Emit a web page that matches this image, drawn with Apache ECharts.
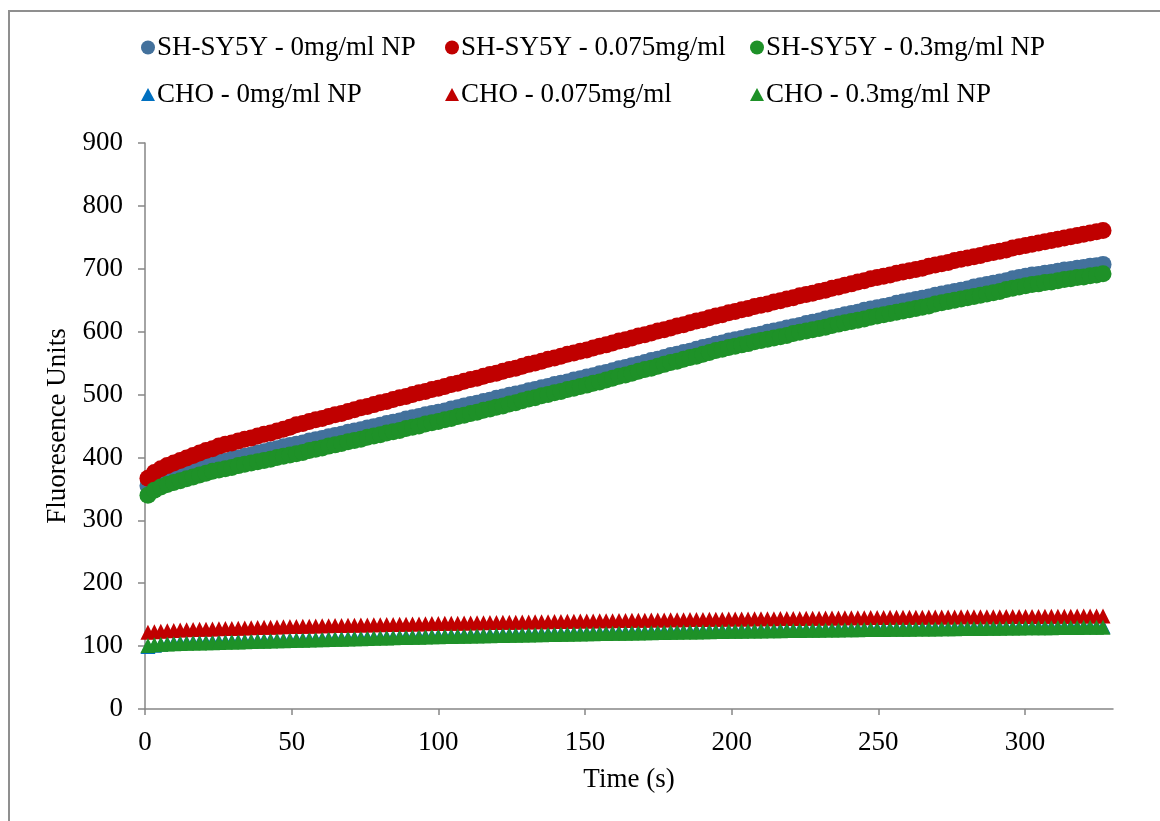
<!DOCTYPE html>
<html>
<head>
<meta charset="utf-8">
<script src="https://cdn.jsdelivr.net/npm/echarts@6/dist/echarts.min.js"></script>
<style>
html,body{margin:0;padding:0;background:#fff;}
#chart{width:1160px;height:821px;}
</style>
</head>
<body>
<div id="chart"></div>
<script>
// Time points (s)
const times = [1.0,3.2,5.4,7.6,9.8,12.0,14.2,16.4,18.6,20.8,23.0,25.2,27.4,29.6,31.8,34.0,36.2,38.4,40.6,42.8,45.0,47.2,49.4,51.6,53.8,56.0,58.2,60.4,62.6,64.8,67.0,69.2,71.4,73.6,75.8,78.0,80.2,82.4,84.6,86.8,89.0,91.2,93.4,95.6,97.8,100.0,102.2,104.4,106.6,108.8,111.0,113.2,115.4,117.6,119.8,122.0,124.2,126.4,128.6,130.8,133.0,135.2,137.4,139.6,141.8,144.0,146.2,148.4,150.6,152.8,155.0,157.2,159.4,161.6,163.8,166.0,168.2,170.4,172.6,174.8,177.0,179.2,181.4,183.6,185.8,188.0,190.2,192.4,194.6,196.8,199.0,201.2,203.4,205.6,207.8,210.0,212.2,214.4,216.6,218.8,221.0,223.2,225.4,227.6,229.8,232.0,234.2,236.4,238.6,240.8,243.0,245.2,247.4,249.6,251.8,254.0,256.2,258.4,260.6,262.8,265.0,267.2,269.4,271.6,273.8,276.0,278.2,280.4,282.6,284.8,287.0,289.2,291.4,293.6,295.8,298.0,300.2,302.4,304.6,306.8,309.0,311.2,313.4,315.6,317.8,320.0,322.2,324.4,326.6];

const shsy5y_0 = [355,362,367,371,374, 377,380,383,385,388,390,392, 394,397,399,402,404,407,409,412,414,417,419,
421,423,426,428,430,433,435,437,440,442,444,447,449,451,454,456,458,461,463,465,468,470,472,
474,477,479,482,484,486,489,491,494,496,499,501,503,506,508,511,513,516,518,520,523,525,528,
530,533,535,538,541,543,546,548,551,554,556,559,562,564,567,569,572,575,577,580,582,585,
587,589,592,594,596,599,601,603,606,608,610,613,615,617,620,622,624,627,629,631,634,636,638,
640,642,645,647,649,651,653,655,658,660,662,664,666,668,671,673,675,677,679,681,684,686,688,
690,691,693,694,696,698,699,701,702,704,705,707];

const shsy5y_075 = [367,376,382,387,391, 395,399,403,407,411,414,418, 421,423,426,429,431,434,437,439,442,445,448,
452,454,457,460,462,465,468,470,473,476,479,481,484,487,489,492,495,497,500,503,505,508,510,
513,516,518,521,524,526,529,532,534,537,540,542,545,548,550,553,556,558,561,564,566,569,571,
574,577,579,582,585,587,590,593,595,598,601,603,606,609,611,614,617,619,622,625,627,630,
632,635,637,640,642,644,647,649,652,654,657,659,661,664,666,669,671,674,676,679,681,684,686,
688,690,693,695,697,699,701,704,706,708,710,713,715,717,719,721,724,726,728,730,733,735,737,
739,741,743,745,747,749,751,753,755,757,759,761];

const shsy5y_03 = [340,348,353,357,360, 363,366,369,372,375,378,380, 382,384,387,389,391,393,395,397,400,402,404,
406,408,411,413,415,418,420,422,425,427,429,432,434,436,439,441,443,446,448,450,453,455,457,
460,462,465,467,470,472,475,477,480,482,485,487,490,493,495,498,500,503,505,508,510,513,515,
518,520,523,526,529,531,534,537,540,542,545,548,551,553,556,559,561,564,567,570,572,575,
577,579,581,584,586,588,590,592,594,597,599,601,603,605,607,610,612,614,616,618,620,623,625,
627,629,631,633,635,637,639,641,644,646,648,650,652,654,656,658,660,662,664,667,669,671,673,
675,676,678,679,681,683,684,686,687,689,690,692];

const cho_0 = [99.5,101.5,103.0,104.0,104.8, 105.2,105.6,106.0,106.3,106.6,106.9,107.2, 107.5,107.8,108.1,108.4,108.7,109.0,109.3,109.6,109.9,110.1,110.4,
110.7,110.9,111.2,111.5,111.7,112.0,112.3,112.5,112.8,113.1,113.3,113.6,113.8,114.1,114.4,114.6,114.9,115.1,115.4,115.6,115.9,116.1,116.4,
116.6,116.8,117.0,117.2,117.4,117.6,117.8,118.0,118.2,118.4,118.6,118.8,119.0,119.2,119.4,119.6,119.8,120.0,120.2,120.4,120.6,120.8,120.9,
121.1,121.3,121.5,121.7,121.9,122.0,122.2,122.4,122.6,122.8,122.9,123.1,123.3,123.5,123.7,123.8,124.0,124.2,124.4,124.6,124.7,124.9,
125.0,125.2,125.3,125.4,125.6,125.7,125.8,126.0,126.1,126.2,126.4,126.5,126.6,126.8,126.9,127.0,127.2,127.3,127.4,127.6,127.7,127.8,127.9,
128.0,128.1,128.2,128.3,128.4,128.5,128.6,128.7,128.8,128.9,129.0,129.1,129.3,129.4,129.5,129.6,129.7,129.8,129.9,130.0,130.1,130.3,130.4,
130.5,130.6,130.7,130.7,130.8,130.9,131.0,131.1,131.2,131.2,131.3,131.4];

const cho_075 = [122.0,123.0,123.8,124.4,125.0, 125.5,125.9,126.3,126.7,127.0,127.3,127.6, 127.9,128.2,128.5,128.9,129.2,129.5,129.8,130.1,130.4,130.7,131.0,
131.2,131.5,131.7,131.9,132.2,132.4,132.6,132.8,133.1,133.3,133.5,133.7,133.9,134.1,134.3,134.5,134.7,134.9,135.1,135.3,135.6,135.8,136.0,
136.2,136.4,136.5,136.7,136.9,137.1,137.2,137.4,137.6,137.8,137.9,138.1,138.3,138.4,138.6,138.8,138.9,139.1,139.3,139.5,139.6,139.8,140.0,
140.1,140.3,140.4,140.5,140.7,140.8,141.0,141.1,141.2,141.4,141.5,141.6,141.8,141.9,142.0,142.2,142.3,142.5,142.6,142.7,142.9,143.0,
143.1,143.2,143.3,143.4,143.5,143.6,143.7,143.8,143.9,144.0,144.1,144.2,144.4,144.5,144.6,144.7,144.8,144.9,145.0,145.1,145.2,145.4,145.5,
145.6,145.7,145.7,145.8,145.9,146.0,146.0,146.1,146.2,146.3,146.3,146.4,146.5,146.5,146.6,146.7,146.7,146.8,146.8,146.9,146.9,147.0,147.0,
147.1,147.2,147.3,147.4,147.4,147.5,147.6,147.7,147.8,147.8,147.9,148.0];

const cho_03 = [101.0,102.0,102.8,103.4,103.9, 104.2,104.5,104.8,105.0,105.3,105.5,105.8, 106.1,106.4,106.7,107.0,107.3,107.6,107.9,108.2,108.5,108.7,109.0,
109.3,109.5,109.8,110.1,110.3,110.6,110.9,111.1,111.4,111.7,111.9,112.2,112.4,112.7,113.0,113.2,113.5,113.7,114.0,114.2,114.5,114.7,115.0,
115.2,115.4,115.6,115.8,116.0,116.2,116.4,116.6,116.8,117.0,117.2,117.4,117.6,117.8,118.0,118.2,118.4,118.6,118.8,119.0,119.2,119.4,119.5,
119.7,119.9,120.1,120.3,120.5,120.6,120.8,121.0,121.2,121.4,121.5,121.7,121.9,122.1,122.3,122.4,122.6,122.8,123.0,123.2,123.3,123.5,
123.6,123.8,123.9,124.0,124.2,124.3,124.4,124.6,124.7,124.8,125.0,125.1,125.2,125.4,125.5,125.6,125.8,125.9,126.0,126.2,126.3,126.4,126.5,
126.6,126.7,126.8,126.9,127.0,127.1,127.2,127.3,127.4,127.5,127.6,127.7,127.9,128.0,128.1,128.2,128.3,128.4,128.5,128.6,128.7,128.9,129.0,
129.1,129.2,129.3,129.3,129.4,129.5,129.6,129.7,129.8,129.8,129.9,130.0];

const seriesNames = ['SH-SY5Y - 0mg/ml NP','SH-SY5Y - 0.075mg/ml','SH-SY5Y - 0.3mg/ml NP','CHO - 0mg/ml NP','CHO - 0.075mg/ml','CHO - 0.3mg/ml NP'];
const xTicks = [0,50,100,150,200,250,300];
const yTicks = [0,100,200,300,400,500,600,700,800,900];

const seriesValues = [shsy5y_0, shsy5y_075, shsy5y_03, cho_0, cho_075, cho_03];
const colors = ['#43719c','#c00000','#1e9128','#0070c0','#c00000','#1e9128'];
const symbols = ['circle','circle','circle','triangle','triangle','triangle'];
const sizes = [17,17,17,15,15,15];

const font = 'Liberation Serif, Times New Roman, serif';
const fs = 27;
const chart = echarts.init(document.getElementById('chart'), null, {renderer:'canvas'});

const legendCols = [141, 445, 750];
const legendRows = [34, 81];
const legends = seriesNames.map((n, i) => ({
  data: [{name: n, icon: symbols[i]}],
  left: legendCols[i % 3],
  top: legendRows[Math.floor(i / 3)],
  padding: 0,
  itemWidth: 14,
  itemHeight: symbols[i] === 'circle' ? 14 : 13,
  itemGap: 0,
  selectedMode: false,
  textStyle: {fontFamily: font, fontSize: fs, color: '#000', padding: [0,0,0,-3]}
}));

const axisLineStyle = {color: '#868686', width: 1.5};

chart.setOption({
  animation: false,
  backgroundColor: '#fff',
  textStyle: {fontFamily: font},
  graphic: [{
    type: 'rect', shape: {x: 9, y: 11, width: 1300, height: 1000},
    style: {fill: 'none', stroke: '#8f8f8f', lineWidth: 2}, silent: true, z: -1
  }],
  legend: legends,
  grid: {left: 145, right: 47, top: 143, bottom: 112, containLabel: false},
  xAxis: {
    type: 'value', min: 0, max: 330, interval: 50,
    name: 'Time (s)', nameLocation: 'middle', nameGap: 57,
    nameTextStyle: {fontFamily: font, fontSize: fs, color: '#000'},
    splitLine: {show: false},
    axisLine: {show: true, lineStyle: axisLineStyle},
    axisTick: {show: true, length: 6, inside: false, lineStyle: axisLineStyle, customValues: xTicks},
    axisLabel: {fontFamily: font, fontSize: fs, color: '#000', margin: 20, customValues: xTicks}
  },
  yAxis: {
    type: 'value', min: 0, max: 900, interval: 100,
    name: 'Fluoresence Units', nameLocation: 'middle', nameGap: 72, nameRotate: 90,
    nameTextStyle: {fontFamily: font, fontSize: fs, color: '#000'},
    splitLine: {show: false},
    axisLine: {show: true, lineStyle: axisLineStyle},
    axisTick: {show: true, length: 7, inside: false, lineStyle: axisLineStyle, customValues: yTicks},
    axisLabel: {fontFamily: font, fontSize: fs, color: '#000', margin: 22, customValues: yTicks}
  },
  series: seriesNames.map((n, i) => ({
    name: n,
    type: 'scatter',
    symbol: symbols[i],
    symbolSize: sizes[i],
    itemStyle: {color: colors[i], opacity: 1},
    emphasis: {disabled: true},
    z: 2 + i,
    data: times.map((t, k) => [t, seriesValues[i][k]])
  }))
});
</script>
</body>
</html>
